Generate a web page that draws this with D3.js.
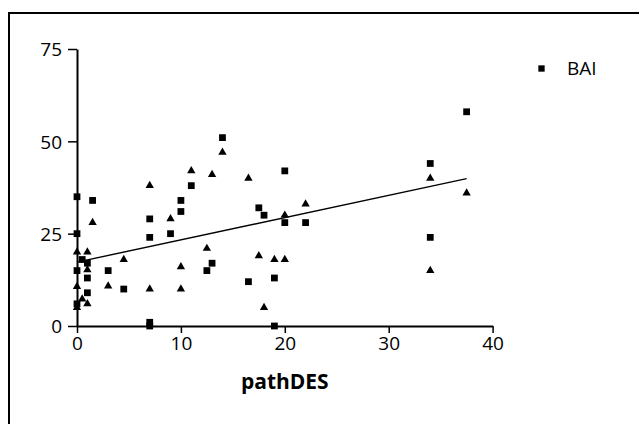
<!DOCTYPE html>
<html>
<head>
<meta charset="utf-8">
<script src="https://cdn.jsdelivr.net/npm/d3@7"></script>
<style>
  html, body { margin: 0; padding: 0; background: #fff; }
  svg { display: block; }
  text { font-family: "Open Sans", "Liberation Sans", sans-serif; fill: #000; }
</style>
</head>
<body>
<script>
// ---- data ----
const baiX = [0, 0, 0, 0, 0.5, 1, 1, 1, 1.5, 3, 4.5, 7, 7, 7, 7, 9, 10, 10, 11, 12.5, 13, 14, 16.5, 17.5, 18, 19, 19, 20, 20, 22, 34, 34, 37.5];
const baiY = [35, 25, 15, 6, 18, 17, 13, 9, 34, 15, 10, 29, 24, 1, 0, 25, 34, 31, 38, 15, 17, 51, 12, 32, 30, 13, 0, 42, 28, 28, 44, 24, 58];
const triX = [0, 0, 0, 0.5, 1, 1, 1, 1.5, 3, 4.5, 7, 7, 9, 10, 10, 11, 12.5, 13, 14, 16.5, 17.5, 18, 19, 20, 20, 22, 34, 34, 37.5];
const triY = [20, 10.7, 5, 7.3, 20, 15.2, 6, 28, 10.8, 18, 38, 10, 29, 16, 10, 42, 21, 41, 47, 40, 19, 5, 18, 30, 18, 33, 40, 15, 36];
const fitX = [0, 37.5];
const fitY = [17.3, 39.9];
const xTicks = [0, 10, 20, 30, 40];
const yTicks = [0, 25, 50, 75];
const xTitle = "pathDES";
const legendLabel = "BAI";

// ---- layout ----
const W = 639, H = 424;
const svg = d3.select("body").append("svg").attr("width", W).attr("height", H);

// outer frame (only top/left visible within image)
svg.append("rect").attr("x", 9).attr("y", 13).attr("width", W + 20).attr("height", H + 20)
  .attr("fill", "none").attr("stroke", "#000").attr("stroke-width", 2);

const x = d3.scaleLinear().domain([0, 40]).range([77, 492.6]);
const y = d3.scaleLinear().domain([0, 75]).range([326, 49]);

// axes
const xAxis = svg.append("g").attr("transform", `translate(0,${y(0)})`)
  .call(d3.axisBottom(x).tickValues(xTicks).tickSize(7).tickPadding(4).tickSizeOuter(0));
const yAxis = svg.append("g").attr("transform", `translate(${x(0)},0)`)
  .call(d3.axisLeft(y).tickValues(yTicks).tickSize(9).tickPadding(6).tickSizeOuter(0));
[xAxis, yAxis].forEach(g => {
  g.select(".domain").attr("stroke", "#000").attr("stroke-width", 2);
  g.selectAll(".tick line").attr("stroke", "#000").attr("stroke-width", 1.5);
  g.selectAll(".tick text").style("font-family", '"Open Sans", sans-serif').style("font-size", "19px").attr("fill", "#000");
});
yAxis.selectAll(".tick text").attr("dy", "0.36em");

// fit line
svg.append("line")
  .attr("x1", x(fitX[0])).attr("y1", y(fitY[0]))
  .attr("x2", x(fitX[1])).attr("y2", y(fitY[1]))
  .attr("stroke", "#000").attr("stroke-width", 1.4);

// triangles
const tri = d3.symbol().type(d3.symbolTriangle).size(30);
svg.append("g").selectAll("path").data(triX.map((v, i) => [v, triY[i]])).join("path")
  .attr("d", tri).attr("transform", d => `translate(${x(d[0])},${y(d[1])})`).attr("fill", "#000");

// squares
const sq = d3.symbol().type(d3.symbolSquare).size(46);
svg.append("g").selectAll("path").data(baiX.map((v, i) => [v, baiY[i]])).join("path")
  .attr("d", sq).attr("transform", d => `translate(${x(d[0])},${y(d[1])})`).attr("fill", "#000");

// x title
svg.append("text").attr("x", (x(0) + x(40)) / 2).attr("y", 389).attr("text-anchor", "middle")
  .style("font-size", "21px").style("font-weight", "bold").text(xTitle);

// legend
const lg = svg.append("g");
lg.append("path").attr("d", d3.symbol().type(d3.symbolSquare).size(40)).attr("transform", "translate(541.5,68.5)").attr("fill", "#000");
lg.append("text").attr("x", 567).attr("y", 75).style("font-size", "19px").text(legendLabel);
</script>
</body>
</html>
